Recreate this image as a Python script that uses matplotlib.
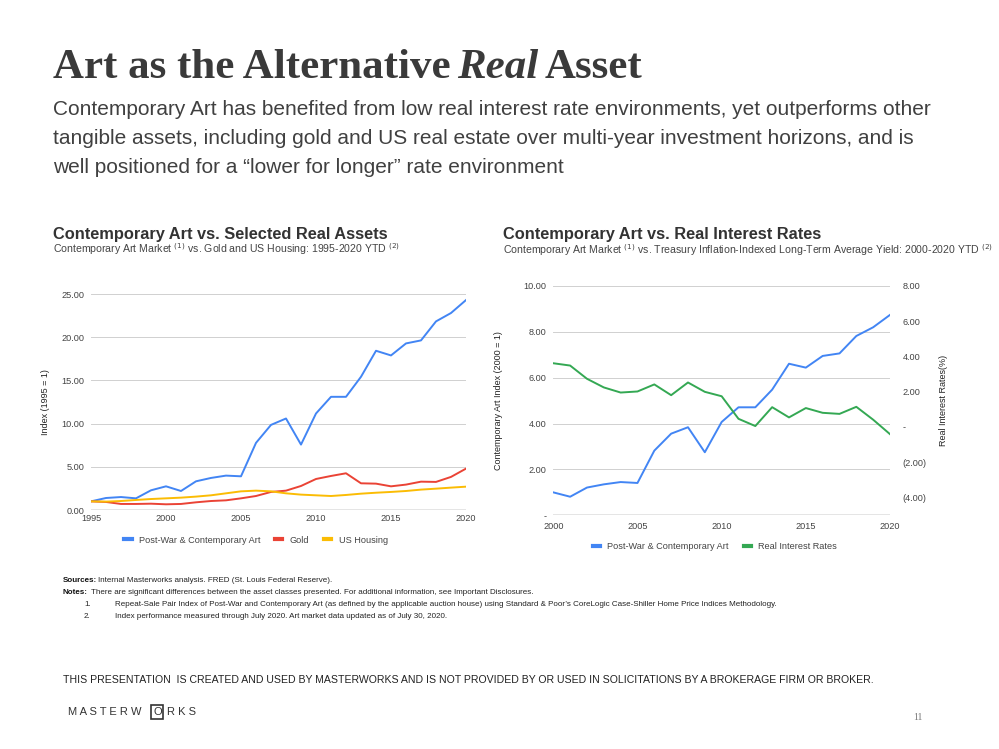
import matplotlib
matplotlib.use("Agg")
import matplotlib.pyplot as plt
from matplotlib.ticker import FuncFormatter

plt.rcParams['font.family'] = ['Liberation Sans', 'DejaVu Sans']

# left chart data: index 1995 = 1
years_a = list(range(1995, 2021))
art_a = [1.0, 1.39, 1.5, 1.35, 2.28, 2.74, 2.2, 3.32, 3.71, 3.98, 3.9, 7.77, 9.85, 10.59,
         7.57, 11.17, 13.1, 13.1, 15.42, 18.43, 17.89, 19.28, 19.63, 21.83, 22.8, 24.3]
gold = [1.0, 0.93, 0.7, 0.7, 0.73, 0.66, 0.7, 0.89, 1.04, 1.12, 1.35, 1.62, 2.09, 2.24,
        2.78, 3.59, 3.94, 4.25, 3.09, 3.05, 2.74, 2.94, 3.28, 3.25, 3.83, 4.79]
housing = [1.0, 0.97, 1.04, 1.16, 1.27, 1.35, 1.43, 1.55, 1.7, 1.93, 2.16, 2.24, 2.16, 1.93,
           1.78, 1.7, 1.62, 1.74, 1.89, 2.0, 2.09, 2.2, 2.36, 2.47, 2.59, 2.7]

# right chart data: index 2000 = 1 and real rates (%)
years_b = list(range(2000, 2021))
art_b = [1.0, 0.81, 1.21, 1.35, 1.45, 1.41, 2.82, 3.56, 3.84, 2.75, 4.07, 4.71, 4.71,
         5.48, 6.61, 6.44, 6.95, 7.06, 7.82, 8.2, 8.74]
rates = [3.62, 3.49, 2.74, 2.25, 1.96, 2.02, 2.42, 1.81, 2.53, 2.0, 1.75, 0.47, 0.06,
         1.13, 0.55, 1.08, 0.81, 0.75, 1.15, 0.42, -0.4]

BLUE = '#4285f4'
RED = '#ea4335'
YELLOW = '#fbbc04'
GREEN = '#34a853'
TXT = '#444444'
TICK = 6.6
LBL = 6.5

fig = plt.figure(figsize=(9.99, 7.49), dpi=100)
fig.patch.set_facecolor('white')

def px(x, y):
    return x / 999, 1 - y / 749

def style_ax(ax):
    for s in ax.spines.values():
        s.set_visible(False)
    ax.tick_params(length=0, labelsize=TICK, colors=TXT)
    ax.grid(axis='y', color='#d0d0d0', lw=0.7)
    ax.set_axisbelow(True)

# ---- left chart
ax1 = fig.add_axes([91 / 999, 1 - 510 / 749, 375 / 999, 216 / 749])
style_ax(ax1)
ax1.plot(years_a, art_a, color=BLUE, lw=1.4, label='Post-War & Contemporary Art')
ax1.plot(years_a, gold, color=RED, lw=1.4, label='Gold')
ax1.plot(years_a, housing, color=YELLOW, lw=1.4, label='US Housing')
ax1.axhline(0, color='#333333', lw=0.9)
ax1.set_xlim(1995, 2020)
ax1.set_ylim(0, 25)
ax1.set_xticks([1995, 2000, 2005, 2010, 2015, 2020])
ax1.set_yticks([0, 5, 10, 15, 20, 25])
ax1.yaxis.set_major_formatter(FuncFormatter(lambda v, p: f'{v:.2f}'))
ax1.tick_params(axis='y', pad=5)
ax1.tick_params(axis='x', pad=3)
ax1.set_ylabel('Index (1995 = 1)', fontsize=LBL, color='#222222')
ax1.yaxis.set_label_coords((50 - 91) / 375, 0.5)
ax1.legend(loc='upper center', bbox_to_anchor=(0.44, -0.08), ncol=3, frameon=False,
           fontsize=TICK, handlelength=0.8, handletextpad=0.8, columnspacing=1.6,
           labelcolor=TXT)
for l in ax1.get_legend().get_lines():
    l.set_linewidth(3)

# ---- right chart
ax2 = fig.add_axes([553.3 / 999, 1 - 515.3 / 749, 336.7 / 999, 229.3 / 749])
style_ax(ax2)
ax2.plot(years_b, art_b, color=BLUE, lw=1.4, label='Post-War & Contemporary Art')
ax2.axhline(0, color='#333333', lw=0.9)
ax2.set_xlim(2000, 2020)
ax2.set_ylim(0, 10)
ax2.set_xticks([2000, 2005, 2010, 2015, 2020])
ax2.set_yticks([0, 2, 4, 6, 8, 10])
ax2.yaxis.set_major_formatter(FuncFormatter(lambda v, p: '-' if v == 0 else f'{v:.2f}'))
ax2.tick_params(axis='y', pad=5)
ax2.tick_params(axis='x', pad=5)
ax2.set_ylabel('Contemporary Art Index (2000 = 1)', fontsize=LBL, color='#222222')
ax2.yaxis.set_label_coords((503 - 553.3) / 336.7, 0.5)

ax3 = ax2.twinx()
for s in ax3.spines.values():
    s.set_visible(False)
ax3.plot(years_b, rates, color=GREEN, lw=1.4, label='Real Interest Rates')
ax3.set_ylim(-5, 8)
ax3.set_yticks([-4, -2, 0, 2, 4, 6, 8])
def rate_fmt(v, p):
    if v == 0:
        return '-'
    if v < 0:
        return f'({abs(v):.2f})'
    return f'{v:.2f}'
ax3.yaxis.set_major_formatter(FuncFormatter(rate_fmt))
ax3.tick_params(length=0, labelsize=TICK, colors=TXT, pad=9)
ax3.set_ylabel('Real Interest Rates(%)', fontsize=LBL, color='#222222')
ax3.yaxis.set_label_coords((939 - 553.3) / 336.7, 0.5)

h2, l2 = ax2.get_legend_handles_labels()
h3, l3 = ax3.get_legend_handles_labels()
leg = ax2.legend(h2 + h3, l2 + l3, loc='upper center', bbox_to_anchor=(0.48, -0.08), ncol=2,
                 frameon=False, fontsize=TICK, handlelength=0.8, handletextpad=0.8,
                 columnspacing=1.6, labelcolor=TXT)
for l in leg.get_lines():
    l.set_linewidth(3)

# ---- page text
HS = 31
t_head = fig.text(*px(53, 78), 'Art as the Alternative ', family='Liberation Serif',
                  weight='bold', fontsize=HS, color='#3a3a3a', va='baseline')
fig.canvas.draw()
bb = t_head.get_window_extent()
t_real = fig.text(bb.x1 / 999 - 4 / 999, 1 - 78 / 749, 'Real', family='Liberation Serif',
                  weight='bold', style='italic', fontsize=HS, color='#3a3a3a', va='baseline')
fig.canvas.draw()
bb2 = t_real.get_window_extent()
fig.text((bb2.x1 + 6) / 999, 1 - 78 / 749, 'Asset', family='Liberation Serif', weight='bold',
         fontsize=HS, color='#3a3a3a', va='baseline')

sub = ('Contemporary Art has benefited from low real interest rate environments, yet outperforms other\n'
       'tangible assets, including gold and US real estate over multi-year investment horizons, and is\n'
       'well positioned for a \u201clower for longer\u201d rate environment')
fig.text(*px(53, 100), sub, fontsize=15, color='#404040', va='top', linespacing=1.68)

fig.text(*px(53, 234), 'Contemporary Art vs. Selected Real Assets', fontsize=11.8,
         weight='bold', color='#333333', va='center')
fig.text(*px(53, 249), 'Contemporary Art Market $^{(1)}$ vs. Gold and US Housing: 1995-2020 YTD $^{(2)}$',
         fontsize=7.6, color='#444444', va='center')
fig.text(*px(503, 234), 'Contemporary Art vs. Real Interest Rates', fontsize=11.8,
         weight='bold', color='#333333', va='center')
fig.text(*px(503, 250),
         'Contemporary Art Market $^{(1)}$ vs. Treasury Inflation-Indexed Long-Term Average Yield: 2000-2020 YTD $^{(2)}$',
         fontsize=7.6, color='#444444', va='center')

# footnotes
fs = 5.75
fig.text(*px(63, 581), 'Sources:', fontsize=fs, weight='bold', color='#111111', va='center')
fig.text(*px(98, 581), 'Internal Masterworks analysis. FRED (St. Louis Federal Reserve).',
         fontsize=fs, color='#222222', va='center')
fig.text(*px(63, 593), 'Notes:', fontsize=fs, weight='bold', color='#111111', va='center')
fig.text(*px(91, 593), 'There are significant differences between the asset classes presented. For additional information, see Important Disclosures.',
         fontsize=fs, color='#222222', va='center')
fig.text(*px(84, 605), '1.', fontsize=fs, color='#222222', va='center')
fig.text(*px(115, 605), 'Repeat-Sale Pair Index of Post-War and Contemporary Art (as defined by the applicable auction house) using Standard & Poor\u2019s CoreLogic Case-Shiller Home Price Indices Methodology.',
         fontsize=fs, color='#222222', va='center')
fig.text(*px(84, 616), '2.', fontsize=fs, color='#222222', va='center')
fig.text(*px(115, 616), 'Index performance measured through July 2020. Art market data updated as of July 30, 2020.',
         fontsize=fs, color='#222222', va='center')

fig.text(*px(63, 680), 'THIS PRESENTATION  IS CREATED AND USED BY MASTERWORKS AND IS NOT PROVIDED BY OR USED IN SOLICITATIONS BY A BROKERAGE FIRM OR BROKER.',
         fontsize=7.52, color='#222222', va='center')

fig.text(*px(68, 712), 'M A S T E R W', fontsize=8, color='#333333', va='center')
fig.text(*px(153, 712), 'O', fontsize=8, color='#333333', va='center',
         bbox=dict(boxstyle='square,pad=0.15', fc='none', ec='#333333', lw=1.2))
fig.text(*px(167, 712), 'R K S', fontsize=8, color='#333333', va='center')
fig.text(*px(913, 717), '11', family='Liberation Serif', fontsize=7, color='#777777', va='center')

fig.savefig('out.png', dpi=100)
